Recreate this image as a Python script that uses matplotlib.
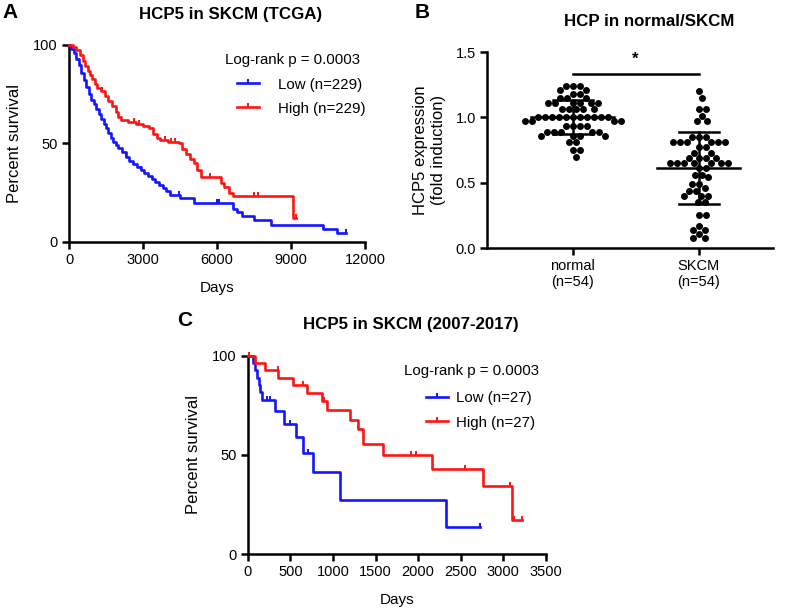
import numpy as np
import matplotlib
matplotlib.use('Agg')
import matplotlib.pyplot as plt
from matplotlib.lines import Line2D

plt.rcParams['font.family'] = ['Liberation Sans', 'DejaVu Sans']

# ---------------- data ----------------
# Panel A: TCGA Kaplan-Meier (days, percent survival) - step points, last pair = end of follow-up
a_low_t = [0, 100, 200, 300, 400, 500, 600, 700, 800, 900, 1000, 1100, 1200, 1300, 1400, 1500,
           1600, 1700, 1800, 1900, 2000, 2150, 2300, 2450, 2600, 2750, 2900, 3050, 3200, 3350,
           3500, 3650, 3800, 3950, 4100, 4500, 5050, 6650, 6800, 7000, 7500, 8200, 10300, 10850, 11250]
a_low_s = [100, 98, 96, 93, 90, 86, 82, 78.5, 75, 72, 70, 67.5, 65, 62.5, 60, 58,
           55.5, 53, 51, 49, 47.5, 45.5, 43, 41, 39.5, 38, 36.5, 35, 33.5, 32,
           30.5, 29, 27.5, 26, 24, 22.5, 19.7, 17, 15, 13, 11.2, 8.6, 6.5, 4.4, 4.4]
a_low_cens = [2300, 2900, 4450, 6000, 6100, 11250]

a_high_t = [0, 150, 300, 450, 550, 650, 750, 850, 950, 1050, 1150, 1300, 1450, 1600, 1750, 1900,
            2000, 2100, 2400, 2700, 3000, 3250, 3400, 3550, 3700, 4000, 4450, 4600, 4750, 4900,
            5050, 5200, 5350, 6150, 6300, 6500, 6650, 9090, 9200]
a_high_s = [100, 99, 97.5, 95, 92, 89.5, 87, 85, 82.5, 80, 78, 76.5, 74, 71.5, 69, 66,
            63.5, 62, 61, 60, 59, 58, 55, 53, 52, 51, 50, 47, 44.5, 42,
            40, 36.5, 33.2, 30, 28, 25, 23.2, 12, 12]
a_high_cens = [1350, 2650, 2850, 3900, 4150, 4300, 5700, 7500, 7650, 9200]

# Panel B: HCP5 expression (fold induction)
normal_vals = ([1.24] * 3 + [1.21] * 2 + [1.18] * 2 + [1.15] * 3 + [1.11] * 6 + [1.06] * 5 +
               [1.00] * 11 + [0.97] * 4 + [0.93] * 4 + [0.89] * 5 + [0.86] * 4 + [0.81] * 2 +
               [0.75] * 2 + [0.70] * 1)
skcm_vals = ([1.20] + [1.15] + [1.06] * 2 + [1.01] + [0.97] * 2 + [0.85] * 3 + [0.81] * 6 +
             [0.77] * 2 + [0.73] * 2 + [0.69] * 4 + [0.65] * 7 + [0.61] * 2 + [0.56] * 2 +
             [0.54] + [0.49] * 2 + [0.46] + [0.44] * 2 + [0.40] * 3 + [0.35] * 2 + [0.25] * 2 +
             [0.17] + [0.14] * 2 + [0.11] + [0.08] * 2)
group_means = [1.00, 0.61]
group_sds = [0.13, 0.275]
group_labels = ['normal\n(n=54)', 'SKCM\n(n=54)']
sig_y = 1.33

# Panel C: 2007-2017 cohort
c_low_t = [0, 60, 90, 110, 130, 150, 170, 320, 430, 570, 650, 765, 1087, 2322, 2720]
c_low_s = [100, 96.3, 92.6, 88.9, 85.2, 81.5, 77.8, 72.0, 65.5, 59.2, 51.0, 41.6, 27.3, 13.6, 13.6]
c_low_cens = [230, 260, 500, 711, 2720]

c_high_t = [0, 86, 203, 359, 535, 692, 868, 935, 1200, 1290, 1356, 1591, 2158, 2764, 3097, 3214]
c_high_s = [100, 96.3, 92.6, 88.9, 85.2, 81.1, 77.0, 72.6, 67.5, 63.0, 55.4, 49.8, 42.8, 34.2, 17.1, 17.1]
c_high_cens = [20, 355, 650, 890, 1300, 1915, 1970, 2550, 3075, 3125, 3214]

BLUE = '#1414ff'
RED = '#ff1414'

# ---------------- figure ----------------
W, H = 786, 612
fig = plt.figure(figsize=(W / 100, H / 100), dpi=100)
LW = 1.9
TICKSZ = 3.2


def fr(l, t, r, b):
    return [l / W, 1 - b / H, (r - l) / W, (b - t) / H]


def style(ax):
    for s in ['top', 'right']:
        ax.spines[s].set_visible(False)
    for s in ['left', 'bottom']:
        ax.spines[s].set_linewidth(1.8)
    ax.tick_params(direction='out', width=1.8, length=5, labelsize=10.5, color='black', pad=3)


def km(ax, t, s, ct, color):
    t = np.asarray(t, float)
    s = np.asarray(s, float)
    ax.step(t, s, where='post', color=color, lw=LW, clip_on=False, zorder=3)
    cs = s[np.searchsorted(t, ct, side='right') - 1]
    ax.plot(ct, cs, linestyle='none', marker=2, markersize=TICKSZ, mew=1.4, color=color,
            clip_on=False, zorder=3)


def km_legend(ax, x, y, pad, n):
    h = [Line2D([0, 0.5, 1], [0, 0, 0], color=BLUE, lw=LW, marker=2, markersize=TICKSZ,
                mew=1.4, markevery=[1]),
         Line2D([0, 0.5, 1], [0, 0, 0], color=RED, lw=LW, marker=2, markersize=TICKSZ,
                mew=1.4, markevery=[1])]
    ax.legend(h, [f'Low (n={n})', f'High (n={n})'], loc='upper left', bbox_to_anchor=(x, y),
              frameon=False, fontsize=10.8, handlelength=1.45, handletextpad=pad,
              labelspacing=0.68, borderpad=0, borderaxespad=0)


# Panel A
axA = fig.add_axes(fr(69, 45, 365, 242))
style(axA)
km(axA, a_low_t, a_low_s, a_low_cens, BLUE)
km(axA, a_high_t, a_high_s, a_high_cens, RED)
axA.set_xlim(0, 12000)
axA.set_ylim(0, 100)
axA.set_xticks([0, 3000, 6000, 9000, 12000])
axA.set_yticks([0, 50, 100])
axA.set_xlabel('Days', fontsize=11, labelpad=10)
axA.set_ylabel('Percent survival', fontsize=12, labelpad=8)
axA.text(0.527, 0.925, 'Log-rank p = 0.0003', transform=axA.transAxes, fontsize=10.8,
         ha='left', va='center')
km_legend(axA, 0.567, 0.835, 1.3, 229)

# Panel B
axB = fig.add_axes(fr(487, 52, 773, 248))
style(axB)
axB.set_xlim(-0.68, 1.59)
axB.set_ylim(0, 1.5)
axB.set_yticks([0, 0.5, 1.0, 1.5])
axB.set_yticklabels(['0.0', '0.5', '1.0', '1.5'])
axB.set_xticks([0, 1])
axB.set_xticklabels(group_labels)
axB.set_ylabel('HCP5 expression\n(fold induction)', fontsize=12, labelpad=7)

bb = axB.get_position()
px_x = bb.width * W / (1.59 + 0.68)
px_y = bb.height * H / 1.5


def swarm(vals, d=7.0):
    vals = np.asarray(vals, float)
    order = np.argsort(-vals, kind='stable')
    placed = []
    off = np.zeros(len(vals))
    cands = [0.0]
    for k in range(1, 200):
        cands += [k * 0.5, -k * 0.5]
    for i in order:
        yp = vals[i] * px_y
        for c in cands:
            if all((c - a) ** 2 + (yp - b) ** 2 >= d * d for a, b in placed):
                break
        placed.append((c, yp))
        off[i] = c / px_x
    return off


for gi, vals in enumerate([normal_vals, skcm_vals]):
    xo = gi + swarm(vals)
    axB.scatter(xo, vals, s=25, color='black', linewidths=0, zorder=3, clip_on=False)
    m, sd = group_means[gi], group_sds[gi]
    axB.plot([gi - 0.33, gi + 0.33], [m, m], color='black', lw=1.8, zorder=4)
    axB.plot([gi - 0.16, gi + 0.16], [m + sd, m + sd], color='black', lw=1.8, zorder=4)
    axB.plot([gi - 0.16, gi + 0.16], [m - sd, m - sd], color='black', lw=1.8, zorder=4)
    axB.plot([gi, gi], [m - sd, m + sd], color='black', lw=1.8, zorder=4)

axB.plot([0, 1], [sig_y, sig_y], color='black', lw=1.8, clip_on=False)
axB.text(0.5, 1.445, '*', ha='center', va='center', fontsize=12, fontweight='bold')

# Panel C
axC = fig.add_axes(fr(247.7, 355.7, 546, 554.3))
style(axC)
km(axC, c_low_t, c_low_s, c_low_cens, BLUE)
km(axC, c_high_t, c_high_s, c_high_cens, RED)
axC.set_xlim(0, 3500)
axC.set_ylim(0, 100)
axC.set_xticks(np.arange(0, 3501, 500))
axC.set_yticks([0, 50, 100])
axC.set_xlabel('Days', fontsize=11, labelpad=10)
axC.set_ylabel('Percent survival', fontsize=12, labelpad=8)
axC.text(0.524, 0.925, 'Log-rank p = 0.0003', transform=axC.transAxes, fontsize=10.8,
         ha='left', va='center')
km_legend(axC, 0.597, 0.82, 0.55, 27)

# titles and panel letters
def ftxt(x, y, s, **kw):
    fig.text(x / W, 1 - y / H, s, ha='center', va='center', fontweight='bold', **kw)


ftxt(231, 15, 'HCP5 in SKCM (TCGA)', fontsize=12.2)
ftxt(649, 21, 'HCP in normal/SKCM', fontsize=12.2)
ftxt(411, 324, 'HCP5 in SKCM (2007-2017)', fontsize=12.2)
ftxt(10, 12, 'A', fontsize=15)
ftxt(422, 12, 'B', fontsize=15)
ftxt(185, 320, 'C', fontsize=15)

fig.savefig('out.png', dpi=100)
